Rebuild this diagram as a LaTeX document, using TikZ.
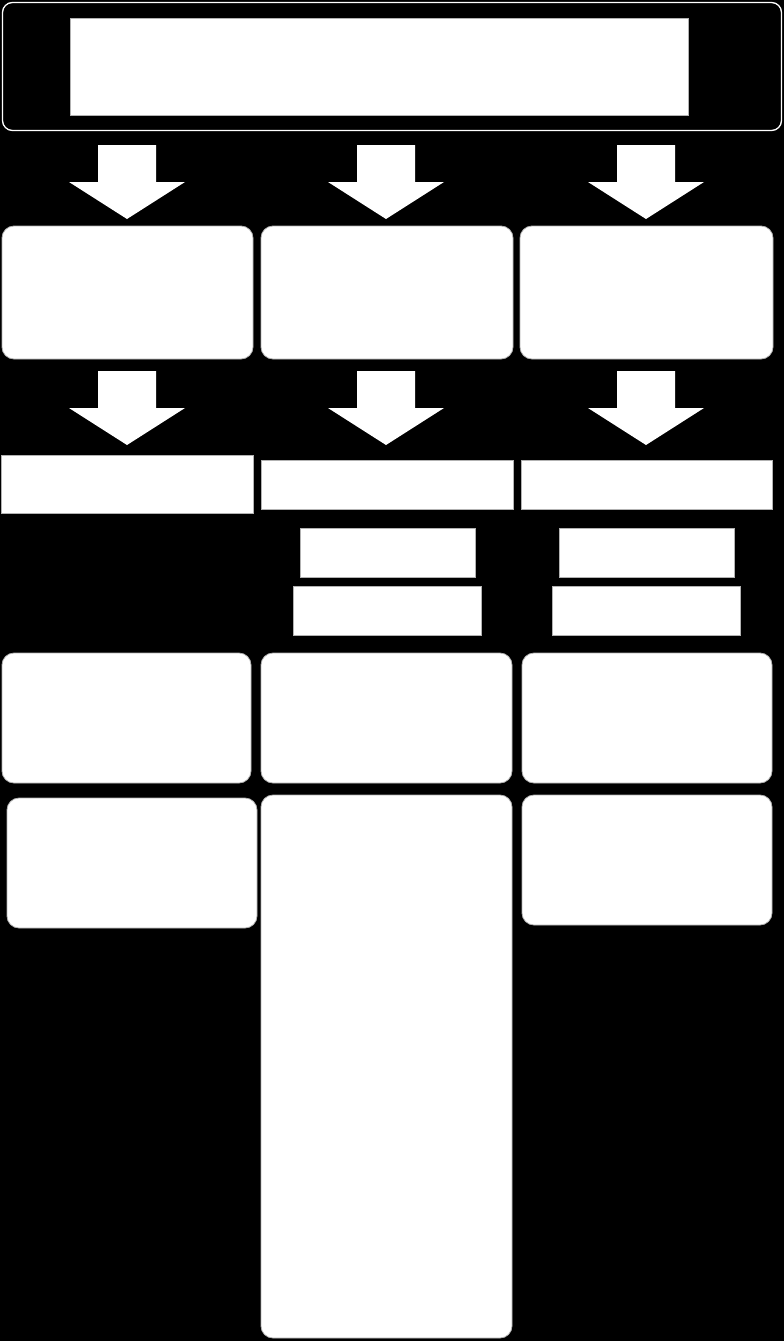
\documentclass[tikz,border=0pt]{standalone}
\begin{document}
\begin{tikzpicture}[x=1pt,y=-1pt,
  rbox/.style={draw=gray!60,line width=0.8pt,fill=white,rounded corners=12pt,inner sep=0pt},
  sbox/.style={draw=gray!60,line width=0.8pt,fill=white,inner sep=0pt},
  blockarrow/.style={fill=white,draw=none}]
\fill[black] (0,0) rectangle (784,1341);
\useasboundingbox (0,0) rectangle (784,1341);
% title frame
\node[draw=white,line width=1.3pt,fill=black,rounded corners=10pt,inner sep=0pt,
  minimum width=779pt,minimum height=128pt] (frame) at (392,66.5) {};
\node[sbox,minimum width=618pt,minimum height=97pt] (title) at (379,66.5) {};
% block arrows
\foreach \cx/\yo in {127/145,386/145,646/145,127/371,386/371,646/371}{
  \fill[blockarrow] (\cx-29,\yo) -- (\cx+29,\yo) -- (\cx+29,\yo+37) -- (\cx+58,\yo+37)
    -- (\cx,\yo+74) -- (\cx-58,\yo+37) -- (\cx-29,\yo+37) -- cycle;
}
% first row
\node[rbox,minimum width=251pt,minimum height=133pt] (b1) at (127.5,292.5) {};
\node[rbox,minimum width=252pt,minimum height=133pt] (b2) at (387,292.5) {};
\node[rbox,minimum width=253pt,minimum height=133pt] (b3) at (646.5,292.5) {};
% rectangles
\node[sbox,minimum width=252pt,minimum height=58pt] (r1) at (127,484) {};
\node[sbox,minimum width=252pt,minimum height=49pt] (r2) at (387,484.5) {};
\node[sbox,minimum width=251pt,minimum height=49pt] (r3) at (646.5,484.5) {};
\node[sbox,minimum width=175pt,minimum height=49pt] (s2a) at (387.5,552.5) {};
\node[sbox,minimum width=188pt,minimum height=49pt] (s2b) at (387,610.5) {};
\node[sbox,minimum width=175pt,minimum height=49pt] (s3a) at (646.5,552.5) {};
\node[sbox,minimum width=188pt,minimum height=49pt] (s3b) at (646,610.5) {};
% rounded rows
\node[rbox,minimum width=249pt,minimum height=130pt] (c1) at (126.5,718) {};
\node[rbox,minimum width=251pt,minimum height=130pt] (c2) at (386.5,718) {};
\node[rbox,minimum width=250pt,minimum height=130pt] (c3) at (647,718) {};
\node[rbox,minimum width=250pt,minimum height=130pt] (d1) at (132,863) {};
\node[rbox,minimum width=251pt,minimum height=543pt] (d2) at (386.5,1066.5) {};
\node[rbox,minimum width=250pt,minimum height=130pt] (d3) at (647,860) {};
\end{tikzpicture}
\end{document}
